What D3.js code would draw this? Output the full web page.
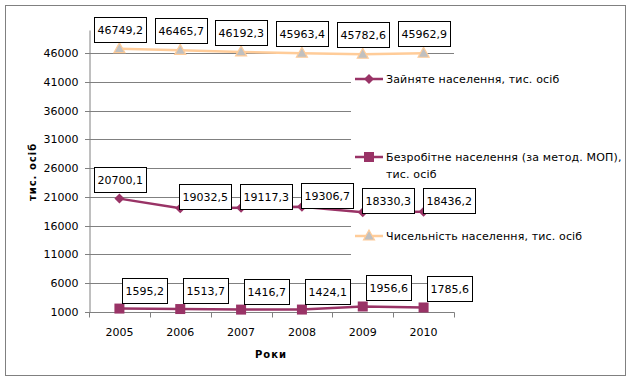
<!DOCTYPE html>
<html>
<head>
<meta charset="utf-8">
<script src="https://cdn.jsdelivr.net/npm/d3@7"></script>
<style>
  body { margin: 0; background: #ffffff; }
  text { font-family: "DejaVu Sans", Verdana, sans-serif; }
</style>
</head>
<body>
<div id="svg-container"></div>
<script>
// chart data
var years        = ["2005", "2006", "2007", "2008", "2009", "2010"];
var employed     = [20700.1, 19032.5, 19117.3, 19306.7, 18330.3, 18436.2];
var unemployed   = [1595.2, 1513.7, 1416.7, 1424.1, 1956.6, 1785.6];
var population   = [46749.2, 46465.7, 46192.3, 45963.4, 45782.6, 45962.9];
var yTicks       = [1000, 6000, 11000, 16000, 21000, 26000, 31000, 36000, 41000, 46000];

var seriesNames  = ["Зайняте населення, тис. осіб",
                    "Безробітне населення (за метод. МОП), тис. осіб",
                    "Чисельність населення, тис. осіб"];

// sizes
var svgWidth  = 632;
var svgHeight = 381;
var plotLeft  = 89;
var plotRight = 454;
var plotTop   = 30;
var plotBottom = 312;

var plum   = "#993366";
var peach  = "#ffcc99";
var grid   = "#808080";

var svg = d3.select("#svg-container")
            .append("svg")
            .attr("width", svgWidth)
            .attr("height", svgHeight);

// outer frame
svg.append("rect")
    .attr("x", 5.5)
    .attr("y", 5.5)
    .attr("width", 620)
    .attr("height", 370)
    .style("fill", "#ffffff")
    .style("stroke", grid)
    .style("stroke-width", 1);

// scales
var xScale = d3.scaleBand()
                .domain(years)
                .range([plotLeft, plotRight]);

var yScale = d3.scaleLinear()
                .domain([1000, 50000])
                .range([plotBottom, plotTop]);

function px(d, i) { return xScale(years[i]) + xScale.bandwidth() / 2; }

// gridlines
svg.append("g")
    .selectAll("line")
    .data(yTicks)
    .enter()
      .append("line")
      .attr("x1", plotLeft - 4)
      .attr("x2", plotRight)
      .attr("y1", function(d) { return Math.round(yScale(d)) + 0.5; })
      .attr("y2", function(d) { return Math.round(yScale(d)) + 0.5; })
      .style("stroke", grid)
      .style("stroke-width", 1);

// y axis
var yAxis = d3.axisLeft(yScale)
              .tickValues(yTicks)
              .tickSize(0)
              .tickPadding(11)
              .tickFormat(d3.format("d"));

var yAxisGroup = svg.append("g")
                    .attr("transform", "translate(" + (plotLeft + 0.5) + ",0)")
                    .call(yAxis);
yAxisGroup.select(".domain").style("stroke", grid);
yAxisGroup.selectAll("text")
    .attr("font-family", "DejaVu Sans")
    .attr("font-size", "11px")
    .attr("fill", "#000");

// x axis with ticks at category boundaries
var xAxisGroup = svg.append("g")
                    .attr("transform", "translate(0," + (plotBottom + 0.5) + ")");
xAxisGroup.append("line")
    .attr("x1", plotLeft)
    .attr("x2", plotRight + 0.5)
    .style("stroke", grid);
xAxisGroup.selectAll(".tk")
    .data(d3.range(years.length + 1))
    .enter()
      .append("line")
      .attr("class", "tk")
      .attr("x1", function(i) { return Math.round(plotLeft + i * xScale.bandwidth()) + 0.5; })
      .attr("x2", function(i) { return Math.round(plotLeft + i * xScale.bandwidth()) + 0.5; })
      .attr("y1", 0)
      .attr("y2", 5)
      .style("stroke", grid);
xAxisGroup.selectAll(".lbl")
    .data(years)
    .enter()
      .append("text")
      .attr("x", function(d, i) { return px(d, i); })
      .attr("y", 23)
      .attr("text-anchor", "middle")
      .attr("font-size", "11px")
      .text(function(d) { return d; });

// axis titles
svg.append("text")
    .attr("x", 271)
    .attr("y", 358)
    .attr("text-anchor", "middle")
    .attr("font-size", "10px")
    .style("font-weight", "bold")
    .style("letter-spacing", "1px")
    .text("Роки");

svg.append("text")
    .attr("transform", "translate(36,172) rotate(-90)")
    .attr("text-anchor", "middle")
    .attr("font-size", "10px")
    .style("font-weight", "bold")
    .style("letter-spacing", "1px")
    .text("тис. осіб");

// legend background covers the gridlines on the right
svg.append("rect")
    .attr("x", 351)
    .attr("y", 58)
    .attr("width", 270)
    .attr("height", 212)
    .style("fill", "#ffffff");

// line generators
var line = d3.line()
              .x(function(d, i) { return px(d, i); })
              .y(function(d) { return yScale(d); });

// markers
function diamond(g, x, y) {
  g.append("path")
    .attr("d", "M" + x + "," + (y - 5) + "L" + (x + 5) + "," + y + "L" + x + "," + (y + 5) + "L" + (x - 5) + "," + y + "Z")
    .style("fill", plum);
}
function square(g, x, y) {
  g.append("rect")
    .attr("x", x - 5)
    .attr("y", y - 5)
    .attr("width", 10)
    .attr("height", 10)
    .style("fill", plum);
}
function triangle(g, x, y) {
  g.append("path")
    .attr("d", "M" + x + "," + (y - 6) + "L" + (x + 5.5) + "," + (y + 4) + "L" + (x - 5.5) + "," + (y + 4) + "Z")
    .style("fill", "#c0c0c0")
    .style("stroke", peach)
    .style("stroke-width", 1.2);
}

var series = [
  { values: population, color: peach, marker: triangle },
  { values: employed,   color: plum,  marker: diamond },
  { values: unemployed, color: plum,  marker: square }
];

series.forEach(function(s) {
  var g = svg.append("g");
  g.append("path")
    .datum(s.values)
    .attr("d", line)
    .style("fill", "none")
    .style("stroke", s.color)
    .style("stroke-width", 2.5);
  s.values.forEach(function(v, i) { s.marker(g, px(v, i), yScale(v)); });
});

// data labels in boxes
function fmt(v) { return d3.format(".1f")(v).replace(".", ","); }

function labelBox(x, y, v) {
  var g = svg.append("g");
  var t = g.append("text")
            .attr("font-size", "11px")
            .attr("x", x)
            .attr("y", y)
            .text(fmt(v));
  var w = t.node().getComputedTextLength() + 6;
  var h = 25;
  return { g: g, t: t, w: w, h: h };
}

function placeLabel(v, cx, cy, mode) {
  var b = labelBox(0, 0, v);
  var left, bottom;
  if (mode === "above") { left = cx - b.w / 2; bottom = cy - 7; }
  else if (mode === "right") { left = cx - 1; bottom = cy + 1; }
  else { left = cx + 3; bottom = cy - 6; }
  left = Math.round(left); bottom = Math.round(bottom);
  b.g.insert("rect", "text")
    .attr("x", left + 0.5)
    .attr("y", bottom - b.h + 0.5)
    .attr("width", Math.round(b.w))
    .attr("height", b.h)
    .style("fill", "#ffffff")
    .style("stroke", "#000")
    .style("stroke-width", 1);
  b.t.attr("x", left + 3.5).attr("y", bottom - 8);
}

population.forEach(function(v, i) { placeLabel(v, px(v, i), yScale(v), "above"); });
employed.forEach(function(v, i) { placeLabel(v, px(v, i), yScale(v), i === 0 ? "above" : "right"); });
unemployed.forEach(function(v, i) { placeLabel(v, px(v, i), yScale(v), "up"); });

// legend
var legendItems = [
  { name: seriesNames[0], color: plum,  marker: diamond,  y: 79 },
  { name: seriesNames[1], color: plum,  marker: square,   y: 157 },
  { name: seriesNames[2], color: peach, marker: triangle, y: 236 }
];

legendItems.forEach(function(d) {
  var g = svg.append("g");
  g.append("line")
    .attr("x1", 355)
    .attr("x2", 383)
    .attr("y1", d.y)
    .attr("y2", d.y)
    .style("stroke", d.color)
    .style("stroke-width", 2.5);
  d.marker(g, 369, d.y);
  var t = g.append("text")
            .attr("x", 386)
            .attr("y", d.y + 4)
            .attr("font-size", "11px")
            .style("letter-spacing", "0.15px");
  if (d.name.indexOf("МОП") > 0) {
    t.append("tspan").attr("x", 386).text("Безробітне населення (за метод. МОП),");
    t.append("tspan").attr("x", 386).attr("dy", 17).text("тис. осіб");
  } else {
    t.text(d.name);
  }
});
</script>
</body>
</html>
